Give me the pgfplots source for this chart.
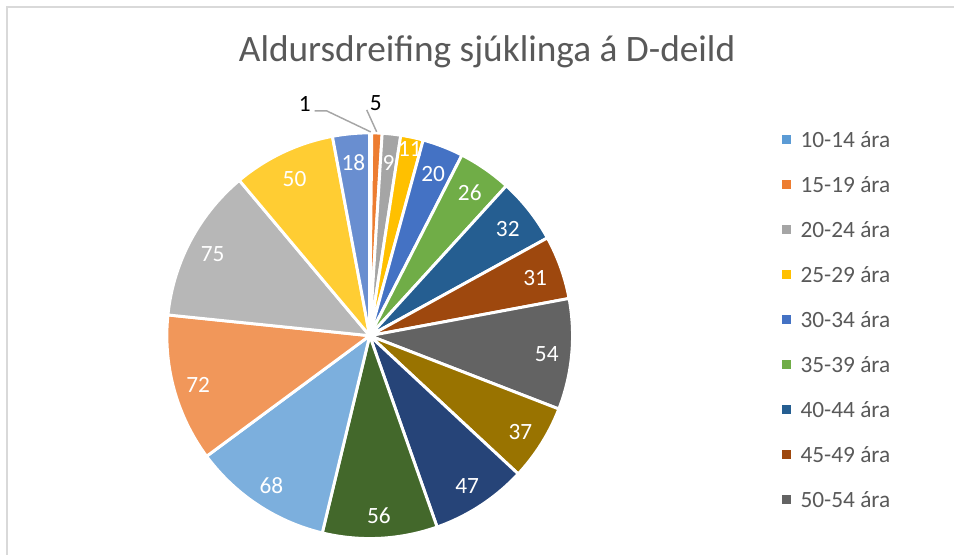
\documentclass[border=0pt]{standalone}
\usepackage{pgfplots}
\pgfplotsset{compat=1.18}
\usepackage{fontspec}
\setmainfont{Carlito}
\definecolor{c1}{HTML}{5B9BD5}
\definecolor{c2}{HTML}{ED7D31}
\definecolor{c3}{HTML}{A5A5A5}
\definecolor{c4}{HTML}{FFC000}
\definecolor{c5}{HTML}{4472C4}
\definecolor{c6}{HTML}{70AD47}
\definecolor{c7}{HTML}{255E91}
\definecolor{c8}{HTML}{9E480E}
\definecolor{c9}{HTML}{636363}
\definecolor{c10}{HTML}{997300}
\definecolor{c11}{HTML}{264478}
\definecolor{c12}{HTML}{43682B}
\definecolor{c13}{HTML}{7CAFDD}
\definecolor{c14}{HTML}{F1975A}
\definecolor{c15}{HTML}{B7B7B7}
\definecolor{c16}{HTML}{FFCD33}
\definecolor{c17}{HTML}{698ED0}
\definecolor{txtcol}{HTML}{595959}
\definecolor{framecol}{HTML}{D9D9D9}
\definecolor{leadcol}{HTML}{A6A6A6}
\newcommand\labfont{\fontsize{17.5pt}{21pt}\selectfont}
\newcommand\legfont{\fontsize{17.5pt}{21pt}\selectfont}
\newcommand\titfont{\fontsize{28pt}{34pt}\selectfont}
\begin{document}
\begin{tikzpicture}
\def\cx{370}\def\cy{336}\def\R{203}\def\total{612}
\gdef\cum{0}\gdef\slices{}\gdef\labels{}
\foreach \val/\col/\rl in {1/c1/0, 5/c2/0, 9/c3/176, 11/c4/193, 20/c5/176, 26/c6/176, 32/c7/176, 31/c8/176, 54/c9/178, 37/c10/178, 47/c11/178, 56/c12/178, 68/c13/178, 72/c14/178, 75/c15/178, 50/c16/176, 18/c17/176} {
  \pgfmathsetmacro\sa{\cum/\total*360}
  \pgfmathsetmacro\sb{(\cum+\val)/\total*360}
  \pgfmathsetmacro\sm{(\sa+\sb)/2}
  \pgfmathsetmacro\nc{\cum+\val}
  \xdef\cum{\nc}
  \xdef\pts{(\cx,\cy)}
  \foreach \k in {0,...,30} {
    \pgfmathsetmacro\st{\sa+(\sb-\sa)*\k/30}
    \pgfmathsetmacro\px{\cx+\R*sin(\st)}
    \pgfmathsetmacro\py{\cy-\R*cos(\st)}
    \xdef\pts{\pts (\px,\py)}
  }
  \xdef\slices{\unexpanded\expandafter{\slices}\noexpand\addplot[fill=\col, draw=white, line width=2.2pt, line join=round, mark=none, forget plot] coordinates {\pts} -- cycle;}
  \ifdim\rl pt>0pt
    \pgfmathsetmacro\lx{\cx+\rl*sin(\sm)}
    \pgfmathsetmacro\ly{\cy-\rl*cos(\sm)+2}
    \xdef\labels{\unexpanded\expandafter{\labels}\noexpand\node[text=white, font=\noexpand\labfont] at (axis cs:\lx,\ly) {\val};}
  \fi
}
\begin{axis}[scale only axis, width=716.25pt, height=416.25pt,
  xmin=0, xmax=955, ymin=0, ymax=555, y dir=reverse,
  hide axis, clip=false]
\path (axis cs:0,0) rectangle (axis cs:955,555);
\draw[framecol, line width=1.2pt] (axis cs:7,555) -- (axis cs:7,7) -- (axis cs:955,7);
\node[text=txtcol, font=\titfont] at (axis cs:487.5,52) {Aldursdreifing sjúklinga á D-deild};
\slices
\labels
\draw[leadcol, line width=1.1pt] (axis cs:315,111) -- (axis cs:327,111) -- (axis cs:371,132);
\draw[leadcol, line width=1.1pt] (axis cs:367,110) -- (axis cs:377,132);
\node[font=\labfont, text=black] at (axis cs:305,104) {1};
\node[font=\labfont, text=black] at (axis cs:376,103) {5};
\fill[c1] (axis cs:783,135.5) rectangle (axis cs:792,144.5);
\node[anchor=west, text=txtcol, font=\legfont, inner sep=0pt] at (axis cs:801,140) {10-14 ára};
\fill[c2] (axis cs:783,180.5) rectangle (axis cs:792,189.5);
\node[anchor=west, text=txtcol, font=\legfont, inner sep=0pt] at (axis cs:801,185) {15-19 ára};
\fill[c3] (axis cs:783,225.5) rectangle (axis cs:792,234.5);
\node[anchor=west, text=txtcol, font=\legfont, inner sep=0pt] at (axis cs:801,230) {20-24 ára};
\fill[c4] (axis cs:783,270.5) rectangle (axis cs:792,279.5);
\node[anchor=west, text=txtcol, font=\legfont, inner sep=0pt] at (axis cs:801,275) {25-29 ára};
\fill[c5] (axis cs:783,315.5) rectangle (axis cs:792,324.5);
\node[anchor=west, text=txtcol, font=\legfont, inner sep=0pt] at (axis cs:801,320) {30-34 ára};
\fill[c6] (axis cs:783,360.5) rectangle (axis cs:792,369.5);
\node[anchor=west, text=txtcol, font=\legfont, inner sep=0pt] at (axis cs:801,365) {35-39 ára};
\fill[c7] (axis cs:783,405.5) rectangle (axis cs:792,414.5);
\node[anchor=west, text=txtcol, font=\legfont, inner sep=0pt] at (axis cs:801,410) {40-44 ára};
\fill[c8] (axis cs:783,450.5) rectangle (axis cs:792,459.5);
\node[anchor=west, text=txtcol, font=\legfont, inner sep=0pt] at (axis cs:801,455) {45-49 ára};
\fill[c9] (axis cs:783,495.5) rectangle (axis cs:792,504.5);
\node[anchor=west, text=txtcol, font=\legfont, inner sep=0pt] at (axis cs:801,500) {50-54 ára};
\end{axis}
\end{tikzpicture}
\end{document}
